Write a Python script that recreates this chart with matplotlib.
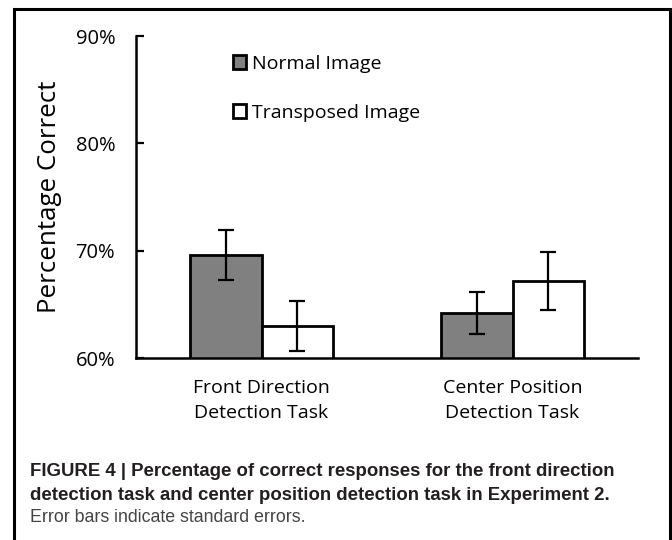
import matplotlib

matplotlib.use("Agg")
import matplotlib.pyplot as plt
import numpy as np
from matplotlib.patches import Patch, Rectangle

# значения
tasks = ["Front Direction\nDetection Task", "Center Position\nDetection Task"]
normal = [69.6, 64.2]
normal_se = [2.3, 2.0]
transposed = [63.0, 67.2]
transposed_se = [2.3, 2.7]
yticks = [60, 70, 80, 90]
series_names = ["Normal Image", "Transposed Image"]

plt.rcParams["font.family"] = ["Open Sans", "DejaVu Sans"]

fig = plt.figure(figsize=(6.72, 5.4), dpi=100)
ax = fig.add_axes([0.2024, 0.337, 0.747, 0.596])

x = np.arange(len(tasks))
w = 0.286
err_kw = dict(ecolor="black", elinewidth=1.6, capsize=5.5, capthick=1.6)
ax.bar(x - w / 2, normal, w, color="#808080", edgecolor="black",
       linewidth=2.0, yerr=normal_se, error_kw=err_kw, zorder=2)
ax.bar(x + w / 2, transposed, w, color="white", edgecolor="black",
       linewidth=2.0, yerr=transposed_se, error_kw=err_kw, zorder=2)

ax.set_ylim(60, 90)
ax.set_xlim(-0.5, 1.5)
ax.set_yticks(yticks, [f"{t}%" for t in yticks])
ax.set_xticks(x, tasks)
ax.tick_params(axis="y", direction="in", length=6, width=1.6, pad=15, labelsize=14.5)
ax.tick_params(axis="x", length=0, pad=15, labelsize=14)
for t in ax.get_xticklabels():
    t.set_linespacing(1.5)
for s in ("top", "right"):
    ax.spines[s].set_visible(False)
for s in ("left", "bottom"):
    ax.spines[s].set_linewidth(1.8)
ax.set_ylabel("Percentage Correct", fontsize=18.6, labelpad=10)

handles = [Patch(facecolor="#808080", edgecolor="black", linewidth=2),
           Patch(facecolor="white", edgecolor="black", linewidth=2)]
ax.legend(handles, series_names, loc="upper left", bbox_to_anchor=(0.346, 0.899),
          bbox_transform=fig.transFigure, frameon=False, fontsize=14,
          handlelength=0.7, handleheight=0.7, handletextpad=0.3,
          labelspacing=1.6, borderpad=0, borderaxespad=0)

# рамка вокруг рисунка
fig.patches.append(Rectangle((14 / 672, -0.05), (670 - 14) / 672, 1.05 - 9 / 540,
                             transform=fig.transFigure, fill=False,
                             edgecolor="black", linewidth=2.2))

cap_font = ["Liberation Sans", "DejaVu Sans"]
fig.text(30 / 672, 1 - 471 / 540,
         "FIGURE 4 | Percentage of correct responses for the front direction",
         family=cap_font, fontsize=13.4, fontweight="bold", color="#231f20", va="center")
fig.text(30 / 672, 1 - 495 / 540,
         "detection task and center position detection task in Experiment 2.",
         family=cap_font, fontsize=13.4, fontweight="bold", color="#231f20", va="center")
fig.text(30 / 672, 1 - 517 / 540, "Error bars indicate standard errors.",
         family=cap_font, fontsize=12.8, color="#444444", va="center")

fig.savefig("out.png", dpi=100)
